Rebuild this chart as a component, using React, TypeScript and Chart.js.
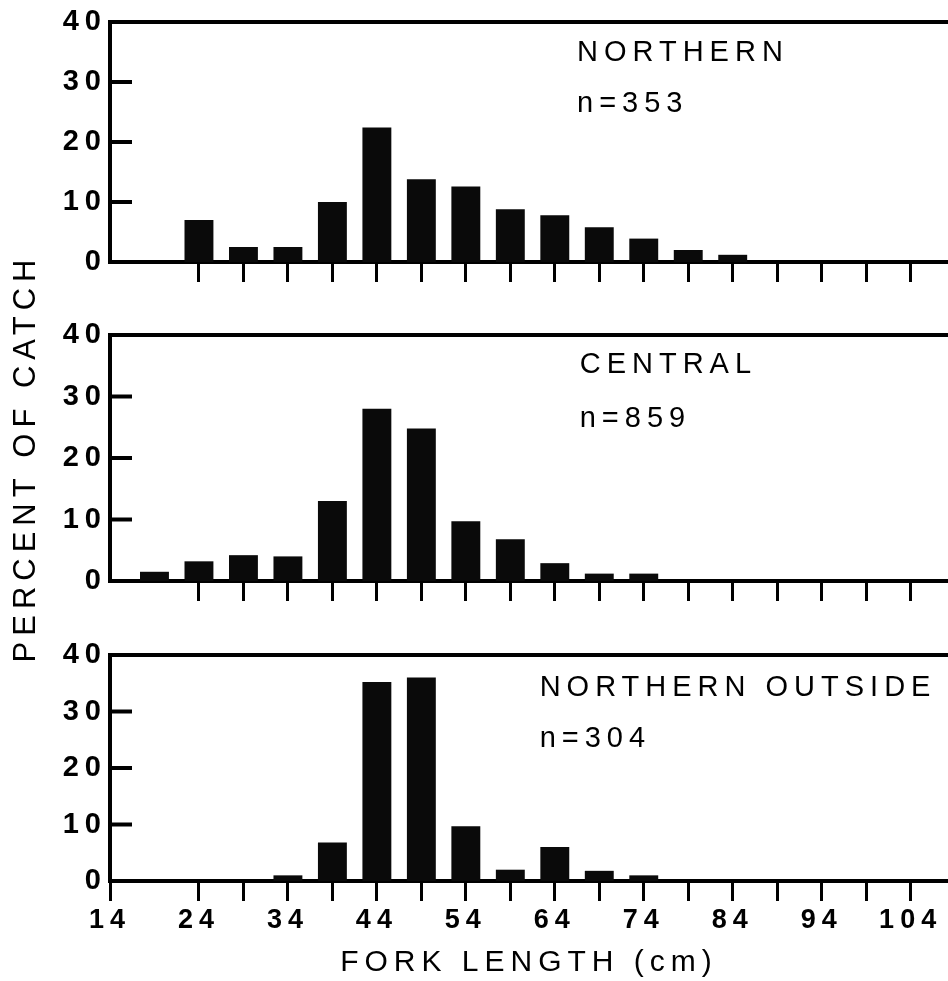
import React, { useEffect, useRef } from 'react';
import { Chart, registerables } from 'chart.js';

Chart.register(...registerables);

// ---- data ----
const binCenters = [19, 24, 29, 34, 39, 44, 49, 54, 59, 64, 69, 74, 79, 84];
const northern = [null, 7, 2.5, 2.5, 10, 22.4, 13.8, 12.6, 8.8, 7.8, 5.8, 3.9, 2, 1.2];
const central = [1.5, 3.2, 4.2, 4, 13, 28, 24.8, 9.7, 6.8, 2.9, 1.2, 1.2, null, null];
const northernOutside = [null, null, null, 1, 6.8, 35.2, 36, 9.7, 2, 6, 1.8, 1, null, null];
const xTickValues = [14, 24, 29, 34, 39, 44, 49, 54, 59, 64, 69, 74, 79, 84, 89, 94, 99, 104];
const xLabelValues = [14, 24, 34, 44, 54, 64, 74, 84, 94, 104];
const yTickValues = [0, 10, 20, 30, 40];
const panelNames = ['NORTHERN', 'CENTRAL', 'NORTHERN OUTSIDE'];
const panelCounts = ['n=353', 'n=859', 'n=304'];
const xTitle = 'FORK LENGTH (cm)';
const yTitle = 'PERCENT OF CATCH';

const seriesList = [northern, central, northernOutside];

// ---- layout (pixels / placement, not data) ----
const W = 948;
const H = 981;
const FONT = '"Liberation Sans", Arial, Helvetica, sans-serif';
const panelLayout = [
  { top: 22, bottom: 262, textX: 66.5, nameY: 34.8, countY: 26.3 },
  { top: 335, bottom: 581, textX: 66.8, nameY: 35.1, countY: 26.3 },
  { top: 655, bottom: 881, textX: 62.3, nameY: 34.2, countY: 25.2 },
];

function makeChart(canvas: HTMLCanvasElement, i: number) {
  const lay = panelLayout[i];
  const isBottom = i === 2;
  const xAxisH = isBottom ? H - lay.bottom : 24;

  const framePlugin = {
    id: 'frame' + i,
    beforeDraw(chart: any) {
      chart.ctx.letterSpacing = '6px';
    },
    afterDraw(chart: any) {
      const ctx = chart.ctx;
      const { left, right, top } = chart.chartArea;
      const xs = chart.scales.x;
      const ys = chart.scales.y;
      ctx.save();
      ctx.strokeStyle = '#000';
      ctx.lineWidth = 4;
      ctx.beginPath();
      ctx.moveTo(left - 2, top);
      ctx.lineTo(right, top);
      ctx.stroke();
      [10, 20, 30].forEach((v) => {
        const y = ys.getPixelForValue(v);
        ctx.beginPath();
        ctx.moveTo(left, y);
        ctx.lineTo(left + 22, y);
        ctx.stroke();
      });
      ctx.fillStyle = '#000';
      ctx.letterSpacing = '6px';
      ctx.font = '29px ' + FONT;
      ctx.textAlign = 'left';
      ctx.textBaseline = 'middle';
      const tx = xs.getPixelForValue(lay.textX);
      ctx.fillText(panelNames[i], tx, ys.getPixelForValue(lay.nameY));
      ctx.fillText(panelCounts[i], tx, ys.getPixelForValue(lay.countY));
      ctx.restore();
    },
  };

  return new Chart(canvas, {
    type: 'bar',
    data: {
      datasets: [
        {
          data: binCenters.map((x, k) => ({ x, y: seriesList[i][k] })) as any,
          backgroundColor: '#0a0a0a',
          borderWidth: 0,
          barPercentage: 0.65,
          categoryPercentage: 1,
        },
      ],
    },
    options: {
      animation: false,
      responsive: false,
      events: [],
      layout: { padding: { top: lay.top, bottom: H - lay.bottom - xAxisH, left: 0, right: 0 } },
      plugins: { legend: { display: false }, tooltip: { enabled: false } },
      scales: {
        x: {
          type: 'linear',
          min: 14,
          max: 108.2,
          offset: false,
          afterBuildTicks: (s: any) => {
            s.ticks = xTickValues.map((v) => ({ value: v }));
          },
          afterFit: (s: any) => {
            s.height = xAxisH;
          },
          grid: {
            display: true,
            drawOnChartArea: false,
            drawTicks: true,
            tickLength: 20,
            offset: false,
            lineWidth: 3,
            color: '#000',
            tickColor: (c: any) =>
              c.tick && c.tick.value === 14 && !isBottom ? 'rgba(0,0,0,0)' : '#000',
          },
          border: { display: true, color: '#000', width: 4 },
          ticks: {
            display: isBottom,
            autoSkip: false,
            maxRotation: 0,
            padding: 3,
            color: '#000',
            font: { family: FONT, size: 27, weight: 'bold' },
            callback: (v: any) => (xLabelValues.includes(Number(v)) ? String(v) : ''),
          },
          title: {
            display: isBottom,
            text: xTitle,
            color: '#000',
            font: { family: FONT, size: 30 },
            padding: { top: 0, bottom: 0 },
          },
        },
        y: {
          min: 0,
          max: 40,
          afterBuildTicks: (s: any) => {
            s.ticks = yTickValues.map((v) => ({ value: v }));
          },
          afterFit: (s: any) => {
            s.width = 110;
          },
          grid: { display: false, drawTicks: false },
          border: { display: true, color: '#000', width: 4 },
          ticks: {
            color: '#000',
            padding: 3,
            font: { family: FONT, size: 29, weight: 'bold' },
          },
          title: {
            display: i === 1,
            text: yTitle,
            color: '#000',
            font: { family: FONT, size: 31 },
            padding: { top: 8, bottom: 0 },
          },
        },
      },
    } as any,
    plugins: [framePlugin],
  });
}

export default function App() {
  const r0 = useRef<HTMLCanvasElement>(null);
  const r1 = useRef<HTMLCanvasElement>(null);
  const r2 = useRef<HTMLCanvasElement>(null);

  useEffect(() => {
    const refs = [r0, r1, r2];
    const charts = refs.map((r, i) => makeChart(r.current as HTMLCanvasElement, i));
    return () => charts.forEach((c) => c.destroy());
  }, []);

  const cs: React.CSSProperties = { position: 'absolute', left: 0, top: 0, width: W, height: H };
  return (
    <div style={{ position: 'absolute', left: 0, top: 0, width: W, height: H, background: '#fff' }}>
      <canvas ref={r0} width={W} height={H} style={cs} />
      <canvas ref={r1} width={W} height={H} style={cs} />
      <canvas ref={r2} width={W} height={H} style={cs} />
    </div>
  );
}
